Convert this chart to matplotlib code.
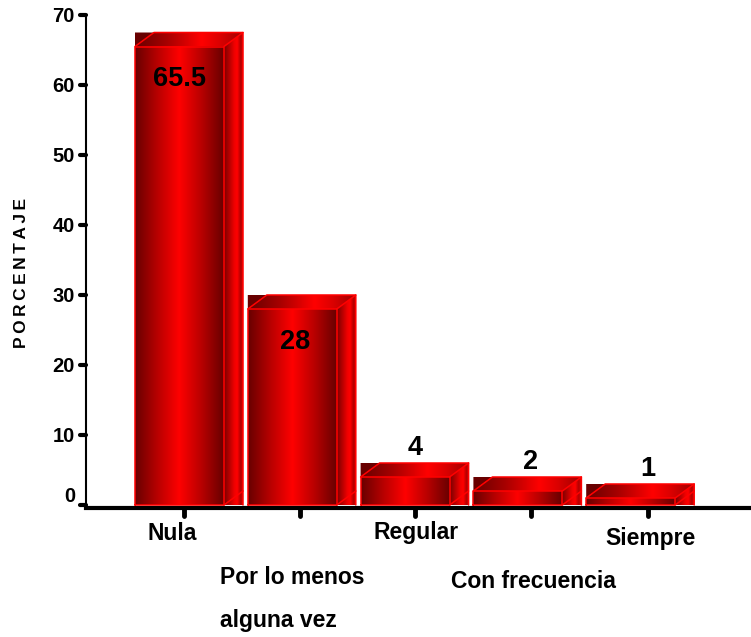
#!/usr/bin/env python3
# Bar chart with fake 3D red bars, percentage per response category.
import matplotlib; matplotlib.use("Agg")
import matplotlib.pyplot as plt, numpy as np
from matplotlib.colors import LinearSegmentedColormap
from matplotlib.markers import MarkerStyle, TICKLEFT, TICKDOWN
from matplotlib.patches import Polygon

VALUES = [65.5, 28, 4, 2, 1]
VALUE_LABELS = ["65.5", "28", "4", "2", "1"]
Y_TICKS = [0, 10, 20, 30, 40, 50, 60, 70]
Y_LABELS = ["", "10", "20", "30", "40", "50", "60", "70"]
X_TICKS = [184, 300, 415, 531, 648]
CATEGORIES = ["Nula", "Por lo menos\n\nalguna vez", "Regular", "Con frecuencia", "Siempre"]
CAT_X = [172, 220, 416, 533, 650]
CAT_Y = [533, 599, 533, 582, 539]
CAT_HA = ["center", "left", "center", "center", "center"]

W, H = 751, 637
PX = 7.0                    # pixels per percentage point
DX, DY = 19, 14 / PX        # depth of the 3D offset
plt.rcParams["font.family"] = ["Liberation Sans", "DejaVu Sans"]
plt.rcParams["font.weight"] = "bold"

fig = plt.figure(figsize=(W / 100, H / 100), dpi=100, facecolor="white")
ax = fig.add_axes([86 / W, (H - 508) / H, (W - 86) / W, (508 - 15) / H])

front_cm = LinearSegmentedColormap.from_list("front", ["#680000", "#b80000", "#ff0000", "#b80000", "#680000"])
top_cm = LinearSegmentedColormap.from_list("top", [(0, "#680000"), (0.3, "#a80000"), (0.62, "#ff0000"),
                                                   (0.8, "#d80000"), (1, "#a00000")])
side_cm = LinearSegmentedColormap.from_list("side", [(0, "#7a0000"), (0.55, "#f00000"), (0.7, "#ff0000"),
                                                     (0.88, "#b00000"), (1, "#e00000")])

def shade(x0, x1, y0, y1, cmap, pts=None):
    im = ax.imshow(np.linspace(0, 1, 128)[None, :], extent=(x0, x1, y0, y1), cmap=cmap,
                   aspect="auto", zorder=3, interpolation="bilinear")
    if pts is not None:
        im.set_clip_path(Polygon(pts, transform=ax.transData))

def bar3d(left, width, v):
    r = left + width; t = v + DY
    ax.fill([left, left + DX, left], [v, t, t], color="#680000", lw=0, zorder=3)
    shade(r, r + DX, 0, t, side_cm)
    shade(left, r + DX, v, t, top_cm, [(left, v), (left + DX, t), (r + DX, t), (r, v)])
    shade(left, r, 0, v, front_cm)
    # bright red wire edges
    for xs, ys in [([left, r, r, left, left], [0, 0, v, v, 0]), ([left, left + DX, r + DX, r + DX], [v, t, t, 0]),
                   ([r, r + DX], [v, t]), ([r, r + DX], [0, DY])]:
        ax.plot(xs, ys, color="#ff0000", lw=1.1, zorder=4, solid_capstyle="round")

for i, v in enumerate(VALUES):
    left = 135 + 112.8 * i
    bar3d(left, 89, v)
    if v > 10:
        ax.text(X_TICKS[i] - 5, v - 33 / PX, VALUE_LABELS[i], ha="center", va="center", fontsize=19.5, color="black", zorder=5)
    else:
        ax.text(X_TICKS[i], v + DY + 2 / PX, VALUE_LABELS[i], ha="center", va="bottom", fontsize=19.5, color="black", zorder=5)

ax.set_xlim(86, W); ax.set_ylim(-3 / PX, 70)
for s in ("top", "right"): ax.spines[s].set_visible(False)
ax.spines["left"].set_linewidth(1.5); ax.spines["bottom"].set_linewidth(3)
ax.spines["bottom"].set_zorder(2)
ax.set_yticks(Y_TICKS, Y_LABELS); ax.set_xticks(X_TICKS); ax.set_xticklabels([])
ax.tick_params(axis="y", length=4, width=3, labelsize=14.5, pad=4)
ax.tick_params(axis="x", length=6, width=3.5)
for tk in ax.yaxis.get_major_ticks():
    tk.tick1line.set_marker(MarkerStyle(TICKLEFT, capstyle="round"))
    tk.tick1line.set_clip_on(False)
for tk in ax.xaxis.get_major_ticks():
    tk.tick1line.set_marker(MarkerStyle(TICKDOWN, capstyle="round"))
# the zero label sits a little above its tick
ax.text(75, 8 / PX, "0", ha="right", va="center", fontsize=14.5, color="black")

for name, x, y, ha in zip(CATEGORIES, CAT_X, CAT_Y, CAT_HA):
    fig.text(x / W, 1 - y / H, name, ha=ha, va="center", fontsize=16.5, linespacing=0.92, color="black")
fig.text(22 / W, 1 - 273 / H, "P\u2009O\u2009R\u2009C\u2009E\u2009N\u2009T\u2009A\u2009J\u2009E", rotation=90,
         ha="center", va="center", fontsize=12.5, color="black")

fig.savefig("out.png", dpi=100, facecolor="white")
